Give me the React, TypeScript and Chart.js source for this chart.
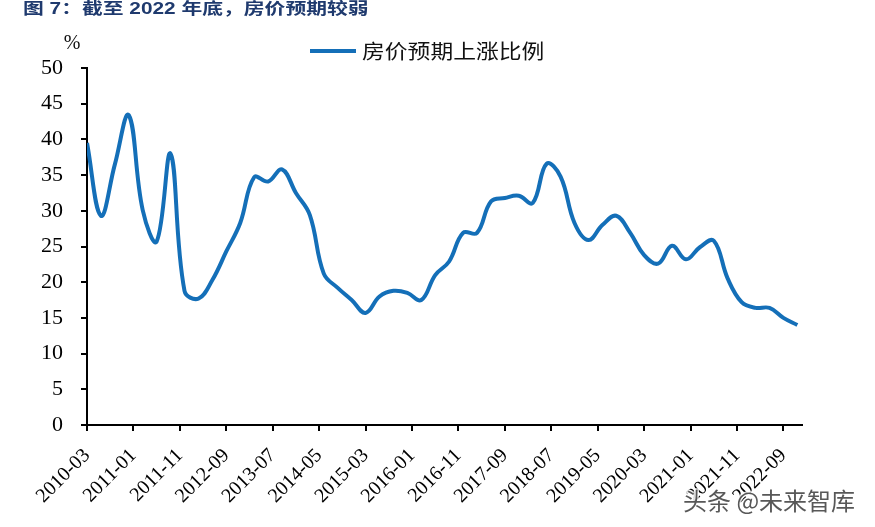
import React, { useEffect, useRef } from 'react';
import { Chart, registerables } from 'chart.js';

Chart.register(...registerables);

const titleText = '图 7：截至 2022 年底，房价预期较弱';
const seriesName = '房价预期上涨比例';
const unitLabel = '%';
const watermark = '头条 @未来智库';

const quarters = [
  '2010-03', '2010-06', '2010-09', '2010-12',
  '2011-03', '2011-06', '2011-09', '2011-12',
  '2012-03', '2012-06', '2012-09', '2012-12',
  '2013-03', '2013-06', '2013-09', '2013-12',
  '2014-03', '2014-06', '2014-09', '2014-12',
  '2015-03', '2015-06', '2015-09', '2015-12',
  '2016-03', '2016-06', '2016-09', '2016-12',
  '2017-03', '2017-06', '2017-09', '2017-12',
  '2018-03', '2018-06', '2018-09', '2018-12',
  '2019-03', '2019-06', '2019-09', '2019-12',
  '2020-03', '2020-06', '2020-09', '2020-12',
  '2021-03', '2021-06', '2021-09', '2021-12',
  '2022-03', '2022-06', '2022-09', '2022-12',
];

const expectRise = [
  39.5, 29.3, 36.5, 43.4,
  30.1, 25.7, 38.0, 18.8,
  17.7, 20.3, 24.3, 28.3,
  34.7, 34.1, 35.8, 32.5,
  29.4, 21.2, 19.2, 17.5,
  15.7, 18.0, 18.8, 18.5,
  17.5, 21.0, 22.9, 26.9,
  26.9, 31.3, 31.8, 32.1,
  31.1, 36.6, 34.8, 28.3,
  25.9, 28.0, 29.3, 26.9,
  23.8, 22.6, 25.1, 23.2,
  24.9, 25.8, 20.5, 17.2,
  16.4, 16.4, 15.0, 14.0,
];

const xTickLabels = [
  '2010-03', '2011-01', '2011-11', '2012-09', '2013-07', '2014-05',
  '2015-03', '2016-01', '2016-11', '2017-09', '2018-07', '2019-05',
  '2020-03', '2021-01', '2021-11', '2022-09',
];

const yMin = 0;
const yMax = 50;
const yStep = 5;

const monthIndex = (s: string) => {
  const [y, m] = s.split('-').map(Number);
  return (y - 2010) * 12 + (m - 3);
};

const LINE_COLOR = '#146fb8';

const overlayPlugin = {
  id: 'overlay',
  afterDraw(chart: any) {
    const ctx = chart.ctx as CanvasRenderingContext2D;
    ctx.save();
    // title
    ctx.fillStyle = '#1f3a6e';
    ctx.textBaseline = 'middle';
    ctx.textAlign = 'left';
    ctx.font = 'bold 16px "Liberation Sans", "Noto Sans CJK SC", sans-serif';
    ctx.save();
    ctx.translate(23, 10);
    ctx.scale(1.3, 1);
    ctx.fillText(titleText, 0, 0);
    ctx.restore();

    // legend
    ctx.strokeStyle = LINE_COLOR;
    ctx.lineWidth = 4;
    ctx.beginPath();
    ctx.moveTo(310, 51);
    ctx.lineTo(356, 51);
    ctx.stroke();
    ctx.fillStyle = '#111';
    ctx.font = '20px "Noto Sans CJK SC", sans-serif';
    ctx.save();
    ctx.translate(362, 51);
    ctx.scale(1.14, 1);
    ctx.fillText(seriesName, 0, 0);
    ctx.restore();

    // unit
    ctx.font = '20px "Liberation Serif", serif';
    ctx.textAlign = 'center';
    ctx.fillText(unitLabel, 72, 44);

    // watermark
    ctx.font = '24px "Noto Sans CJK SC", sans-serif';
    ctx.textAlign = 'left';
    ctx.lineWidth = 3;
    ctx.strokeStyle = 'rgba(255,255,255,0.8)';
    ctx.strokeText(watermark, 683, 501);
    ctx.fillStyle = 'rgba(70,70,70,0.9)';
    ctx.fillText(watermark, 683, 501);
    ctx.restore();
  },
};

export default function App() {
  const ref = useRef<HTMLCanvasElement | null>(null);

  useEffect(() => {
    if (!ref.current) return;
    const chart = new Chart(ref.current, {
      type: 'line',
      data: {
        datasets: [
          {
            label: seriesName,
            data: quarters.map((q, i) => ({ x: monthIndex(q), y: expectRise[i] })),
            borderColor: LINE_COLOR,
            backgroundColor: LINE_COLOR,
            borderWidth: 4,
            pointRadius: 0,
            tension: 0.4,
            fill: false,
          },
        ],
      },
      plugins: [overlayPlugin],
      options: {
        animation: false,
        responsive: false,
        maintainAspectRatio: false,
        layout: { padding: { left: 0, top: 68, right: 73, bottom: 0 } },
        plugins: {
          legend: { display: false },
          title: { display: false },
          tooltip: { enabled: false },
        },
        scales: {
          x: {
            type: 'linear',
            min: 0,
            max: 154,
            afterFit: (s: any) => {
              s.height = 102;
            },
            afterBuildTicks: (s: any) => {
              s.ticks = xTickLabels.map((l) => ({ value: monthIndex(l) }));
            },
            ticks: {
              autoSkip: false,
              minRotation: 45,
              maxRotation: 45,
              padding: 13,
              color: '#000',
              font: { family: '"Liberation Serif", serif', size: 20 },
              callback: (_v: any, i: number) => xTickLabels[i],
            },
            grid: {
              drawOnChartArea: false,
              drawTicks: true,
              tickLength: 6,
              color: '#000',
              lineWidth: 2,
            },
            border: { display: true, color: '#000', width: 2 },
          },
          y: {
            min: yMin,
            max: yMax,
            afterFit: (s: any) => {
              s.width = 87;
            },
            ticks: {
              stepSize: yStep,
              padding: 18,
              color: '#000',
              font: { family: '"Liberation Serif", serif', size: 22 },
            },
            grid: {
              drawOnChartArea: false,
              drawTicks: true,
              tickLength: 6,
              color: '#000',
              lineWidth: 2,
            },
            border: { display: true, color: '#000', width: 2 },
          },
        },
      },
    });
    return () => chart.destroy();
  }, []);

  return (
    <div style={{ position: 'absolute', left: 0, top: 0, width: 875, height: 527, background: '#fff' }}>
      <canvas ref={ref} width={875} height={527} style={{ display: 'block', width: 875, height: 527 }} />
    </div>
  );
}
